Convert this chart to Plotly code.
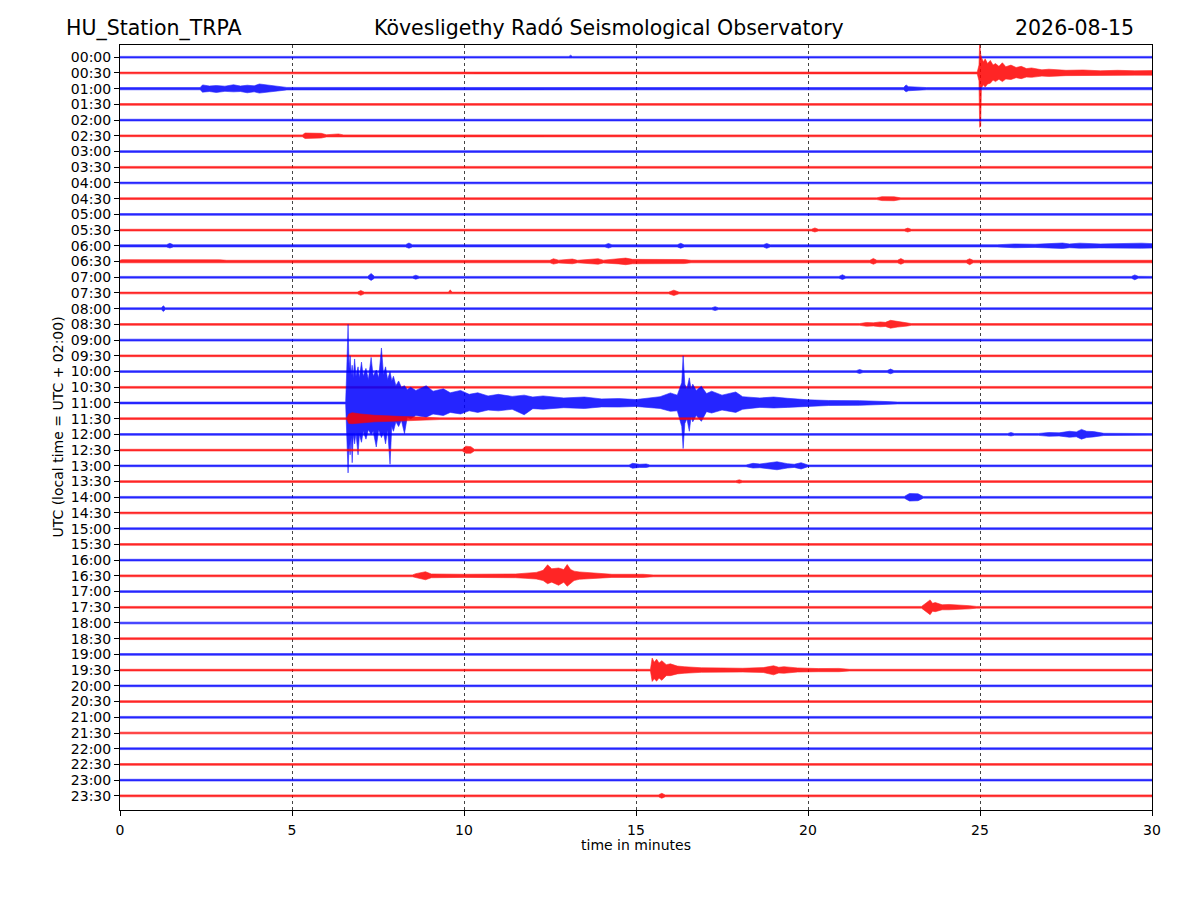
import plotly.graph_objects as go

ROW_LABELS = [
    "00:00", "00:30", "01:00", "01:30", "02:00", "02:30", "03:00", "03:30",
    "04:00", "04:30", "05:00", "05:30", "06:00", "06:30", "07:00", "07:30",
    "08:00", "08:30", "09:00", "09:30", "10:00", "10:30", "11:00", "11:30",
    "12:00", "12:30", "13:00", "13:30", "14:00", "14:30", "15:00", "15:30",
    "16:00", "16:30", "17:00", "17:30", "18:00", "18:30", "19:00", "19:30",
    "20:00", "20:30", "21:00", "21:30", "22:00", "22:30", "23:00", "23:30",
]
X_TICKS = [0, 5, 10, 15, 20, 25, 30]

# background noise half-amplitude per row (in trace spacings)
BASE_NOISE = [
    0.055, 0.055, 0.07, 0.055, 0.055, 0.055, 0.055, 0.055,
    0.055, 0.055, 0.055, 0.055, 0.07, 0.08, 0.055, 0.055,
    0.055, 0.055, 0.06, 0.055, 0.055, 0.055, 0.06, 0.055,
    0.055, 0.055, 0.055, 0.055, 0.055, 0.055, 0.055, 0.055,
    0.055, 0.06, 0.055, 0.055, 0.055, 0.055, 0.055, 0.055,
    0.055, 0.055, 0.055, 0.055, 0.055, 0.055, 0.055, 0.06,
]

# envelopes: (minute, amplitude up, amplitude down)
blip_0000 = [(13.05, 0.055, 0.055), (13.1, 0.13, 0.06), (13.15, 0.055, 0.055)]
quake_0030 = [
    (24.92, 0.06, 0.06), (24.97, 0.5, 0.5), (24.99, 1.9, 3.45), (25.02, 1.2, 3.4),
    (25.04, 1.0, 0.95), (25.1, 0.7, 0.75), (25.15, 0.9, 0.9), (25.22, 0.6, 0.7),
    (25.3, 0.8, 0.65), (25.38, 0.5, 0.45), (25.45, 0.6, 0.55), (25.55, 0.42, 0.4),
    (25.65, 0.65, 0.55), (25.75, 0.4, 0.38), (25.9, 0.5, 0.42), (26.05, 0.35, 0.3),
    (26.2, 0.42, 0.36), (26.35, 0.28, 0.26), (26.5, 0.32, 0.28), (26.8, 0.2, 0.2),
    (27.0, 0.24, 0.22), (27.5, 0.17, 0.17), (28.0, 0.19, 0.17), (28.5, 0.14, 0.14),
    (29.0, 0.17, 0.15), (29.5, 0.14, 0.14), (30.0, 0.15, 0.14),
]
burst_0100 = [
    (2.33, 0.07, 0.07), (2.4, 0.24, 0.22), (2.6, 0.17, 0.18), (2.8, 0.2, 0.24),
    (3.05, 0.16, 0.17), (3.3, 0.25, 0.2), (3.5, 0.17, 0.18), (3.7, 0.22, 0.26),
    (3.9, 0.18, 0.2), (4.05, 0.3, 0.28), (4.3, 0.24, 0.22), (4.6, 0.16, 0.14),
    (4.85, 0.08, 0.08),
    (22.78, 0.07, 0.07), (22.85, 0.24, 0.2), (22.92, 0.13, 0.13), (23.3, 0.11, 0.1),
    (23.45, 0.07, 0.07),
]
burst_0230 = [
    (5.3, 0.06, 0.06), (5.38, 0.18, 0.17), (5.6, 0.15, 0.16), (5.85, 0.16, 0.14),
    (6.0, 0.07, 0.07), (6.35, 0.12, 0.1), (6.5, 0.06, 0.06),
]
blip_0430 = [(22.0, 0.055, 0.055), (22.15, 0.13, 0.12), (22.5, 0.12, 0.13), (22.7, 0.055, 0.055)]
blip_0530 = [
    (20.1, 0.055, 0.055), (20.2, 0.14, 0.12), (20.3, 0.055, 0.055),
    (22.8, 0.055, 0.055), (22.9, 0.13, 0.12), (23.0, 0.055, 0.055),
]
noise_0600 = [
    (1.35, 0.07, 0.07), (1.45, 0.16, 0.14), (1.55, 0.07, 0.07),
    (8.3, 0.07, 0.07), (8.4, 0.18, 0.15), (8.5, 0.07, 0.07),
    (14.1, 0.07, 0.07), (14.2, 0.15, 0.14), (14.3, 0.07, 0.07),
    (16.2, 0.07, 0.07), (16.3, 0.16, 0.15), (16.4, 0.07, 0.07),
    (18.7, 0.07, 0.07), (18.8, 0.15, 0.16), (18.9, 0.07, 0.07),
    (25.5, 0.07, 0.07), (26.0, 0.12, 0.12), (26.6, 0.1, 0.1), (27.4, 0.18, 0.17),
    (27.6, 0.12, 0.12), (27.9, 0.17, 0.15), (28.5, 0.12, 0.13), (29.1, 0.15, 0.13),
    (29.7, 0.17, 0.15), (30.0, 0.14, 0.14),
]
noise_0630 = [
    (0.05, 0.12, 0.12), (2.9, 0.11, 0.11), (3.1, 0.08, 0.08),
    (12.5, 0.08, 0.08), (12.6, 0.18, 0.16), (12.75, 0.09, 0.09), (13.15, 0.16, 0.14),
    (13.3, 0.08, 0.08), (13.9, 0.18, 0.17), (14.05, 0.09, 0.09), (14.5, 0.15, 0.15),
    (14.7, 0.22, 0.2), (14.9, 0.14, 0.14), (15.5, 0.15, 0.15), (16.4, 0.13, 0.13),
    (16.6, 0.08, 0.08),
    (21.8, 0.08, 0.08), (21.9, 0.2, 0.17), (22.0, 0.08, 0.08),
    (22.6, 0.08, 0.08), (22.7, 0.19, 0.17), (22.8, 0.08, 0.08),
    (24.6, 0.08, 0.08), (24.7, 0.18, 0.2), (24.8, 0.08, 0.08),
]
blips_0700 = [
    (7.2, 0.055, 0.055), (7.3, 0.24, 0.2), (7.4, 0.055, 0.055),
    (8.5, 0.055, 0.055), (8.6, 0.13, 0.12), (8.7, 0.055, 0.055),
    (20.9, 0.055, 0.055), (21.0, 0.16, 0.14), (21.1, 0.055, 0.055),
    (29.4, 0.055, 0.055), (29.5, 0.15, 0.16), (29.6, 0.06, 0.06),
]
blips_0730 = [
    (6.9, 0.055, 0.055), (7.0, 0.16, 0.15), (7.1, 0.055, 0.055),
    (9.55, 0.055, 0.055), (9.6, 0.2, 0.08), (9.65, 0.055, 0.055),
    (15.95, 0.055, 0.055), (16.1, 0.18, 0.16), (16.25, 0.055, 0.055),
]
blips_0800 = [
    (1.2, 0.055, 0.055), (1.26, 0.18, 0.18), (1.32, 0.055, 0.055),
    (17.2, 0.055, 0.055), (17.3, 0.13, 0.12), (17.4, 0.055, 0.055),
]
burst_0830 = [
    (21.5, 0.055, 0.055), (21.7, 0.12, 0.12), (21.9, 0.1, 0.1), (22.1, 0.16, 0.15),
    (22.25, 0.13, 0.13), (22.4, 0.26, 0.24), (22.6, 0.18, 0.17), (22.9, 0.1, 0.1),
    (23.0, 0.055, 0.055),
]
blips_1000 = [
    (21.4, 0.055, 0.055), (21.5, 0.13, 0.12), (21.6, 0.06, 0.06),
    (22.3, 0.06, 0.06), (22.4, 0.16, 0.14), (22.5, 0.06, 0.06),
]
quake_1100 = [
    (6.56, 0.06, 0.06), (6.59, 2.0, 2.4), (6.63, 5.0, 4.45), (6.66, 2.2, 2.6),
    (6.69, 3.0, 3.3), (6.72, 1.8, 2.2), (6.75, 2.4, 3.8), (6.78, 1.6, 2.0),
    (6.82, 2.8, 2.6), (6.86, 1.7, 1.9), (6.92, 2.3, 3.3), (6.96, 1.6, 2.0),
    (7.02, 2.6, 2.5), (7.07, 1.7, 1.8), (7.15, 2.2, 2.3), (7.22, 1.5, 1.7),
    (7.3, 2.9, 2.0), (7.36, 1.7, 1.8), (7.45, 2.1, 2.8), (7.52, 1.6, 1.7),
    (7.6, 3.5, 2.2), (7.66, 1.8, 1.9), (7.72, 2.3, 2.6), (7.78, 1.5, 1.7),
    (7.85, 2.0, 3.9), (7.9, 1.4, 1.5), (7.95, 1.7, 1.8), (8.02, 1.1, 1.2),
    (8.1, 1.4, 1.5), (8.18, 1.0, 1.1), (8.27, 1.1, 1.95), (8.35, 0.85, 0.9),
    (8.45, 1.0, 1.0), (8.6, 0.8, 0.8), (8.9, 1.1, 0.9), (9.1, 0.75, 0.7),
    (9.4, 0.9, 0.8), (9.6, 0.65, 0.6), (9.9, 0.8, 0.7), (10.15, 0.55, 0.5),
    (10.4, 0.65, 0.6), (10.7, 0.45, 0.45), (11.0, 0.55, 0.5), (11.4, 0.42, 0.4),
    (11.75, 0.5, 0.75), (12.0, 0.38, 0.36), (12.3, 0.45, 0.4), (12.9, 0.32, 0.3),
    (13.5, 0.38, 0.35), (14.0, 0.26, 0.25), (14.5, 0.28, 0.26), (15.0, 0.22, 0.22),
    (15.4, 0.3, 0.28), (15.7, 0.4, 0.35), (16.0, 0.64, 0.53), (16.2, 0.5, 0.5),
    (16.33, 1.3, 1.5), (16.37, 3.0, 2.9), (16.42, 1.2, 1.3), (16.48, 0.9, 1.0),
    (16.55, 1.6, 1.8), (16.6, 0.9, 0.9), (16.65, 1.2, 1.2), (16.75, 0.8, 0.8),
    (16.9, 1.06, 1.17), (17.05, 0.6, 0.55), (17.2, 0.75, 0.64), (17.5, 0.5, 0.45),
    (17.9, 0.7, 0.6), (18.1, 0.4, 0.4), (18.6, 0.32, 0.28), (19.0, 0.38, 0.32),
    (19.4, 0.3, 0.28), (20.0, 0.2, 0.2), (20.6, 0.16, 0.16), (21.5, 0.15, 0.15),
    (22.3, 0.09, 0.09), (22.6, 0.06, 0.06),
]
quake_1130 = [
    (6.6, 0.055, 0.055), (6.65, 0.3, 0.3), (6.75, 0.38, 0.32), (7.0, 0.3, 0.3),
    (7.4, 0.22, 0.2), (8.1, 0.15, 0.15), (9.0, 0.07, 0.07), (9.3, 0.055, 0.055),
]
burst_1200 = [
    (25.8, 0.055, 0.055), (25.9, 0.12, 0.1), (26.0, 0.055, 0.055),
    (26.7, 0.06, 0.06), (27.0, 0.12, 0.12), (27.3, 0.1, 0.1), (27.6, 0.2, 0.18),
    (27.8, 0.16, 0.15), (27.95, 0.32, 0.3), (28.1, 0.2, 0.2), (28.3, 0.18, 0.16),
    (28.6, 0.07, 0.07),
]
blob_1230 = [(9.95, 0.055, 0.055), (10.05, 0.25, 0.2), (10.2, 0.22, 0.2), (10.3, 0.055, 0.055)]
bursts_1300 = [
    (14.8, 0.055, 0.055), (14.9, 0.16, 0.15), (15.1, 0.1, 0.1), (15.3, 0.12, 0.1),
    (15.4, 0.055, 0.055),
    (18.2, 0.055, 0.055), (18.4, 0.16, 0.14), (18.6, 0.12, 0.12), (18.8, 0.18, 0.17),
    (19.1, 0.26, 0.25), (19.4, 0.14, 0.14), (19.6, 0.1, 0.1), (19.8, 0.2, 0.2),
    (20.0, 0.055, 0.055),
]
blip_1330 = [(17.9, 0.055, 0.055), (18.0, 0.11, 0.1), (18.1, 0.055, 0.055)]
burst_1400 = [(22.8, 0.055, 0.055), (22.95, 0.24, 0.24), (23.2, 0.22, 0.22), (23.35, 0.055, 0.055)]
burst_1630 = [
    (8.5, 0.06, 0.06), (8.6, 0.14, 0.12), (8.88, 0.26, 0.25), (9.05, 0.12, 0.12),
    (10.0, 0.1, 0.1), (11.5, 0.12, 0.12), (11.8, 0.17, 0.16), (12.1, 0.22, 0.2),
    (12.3, 0.35, 0.3), (12.43, 0.7, 0.5), (12.55, 0.45, 0.4), (12.75, 0.5, 0.6),
    (12.9, 0.4, 0.4), (13.0, 0.72, 0.66), (13.1, 0.4, 0.5), (13.2, 0.3, 0.3),
    (13.35, 0.25, 0.22), (13.8, 0.18, 0.17), (14.3, 0.1, 0.1), (15.2, 0.1, 0.1),
    (15.5, 0.06, 0.06),
]
burst_1730 = [
    (23.3, 0.055, 0.055), (23.45, 0.3, 0.3), (23.55, 0.47, 0.47), (23.62, 0.25, 0.25),
    (23.7, 0.3, 0.28), (23.9, 0.16, 0.16), (24.1, 0.18, 0.16), (24.7, 0.1, 0.1),
    (24.9, 0.055, 0.055),
]
quake_1930 = [
    (15.42, 0.055, 0.055), (15.47, 0.77, 0.72), (15.53, 0.5, 0.55), (15.6, 0.7, 0.7),
    (15.67, 0.45, 0.5), (15.75, 0.6, 0.65), (15.88, 0.35, 0.35), (16.0, 0.4, 0.35),
    (16.2, 0.26, 0.24), (16.4, 0.22, 0.2), (16.9, 0.15, 0.14), (17.5, 0.14, 0.12),
    (18.1, 0.12, 0.12), (18.7, 0.16, 0.15), (19.0, 0.28, 0.3), (19.15, 0.18, 0.18),
    (19.3, 0.22, 0.2), (19.7, 0.14, 0.12), (20.3, 0.1, 0.1), (20.9, 0.11, 0.1),
    (21.2, 0.055, 0.055),
]
blip_2330 = [(15.65, 0.06, 0.06), (15.75, 0.16, 0.15), (15.85, 0.06, 0.06)]

EVENTS = {
    "00:00": [blip_0000], "00:30": [quake_0030], "01:00": [burst_0100],
    "02:30": [burst_0230], "04:30": [blip_0430], "05:30": [blip_0530],
    "06:00": [noise_0600], "06:30": [noise_0630], "07:00": [blips_0700],
    "07:30": [blips_0730], "08:00": [blips_0800], "08:30": [burst_0830],
    "10:00": [blips_1000], "11:00": [quake_1100], "11:30": [quake_1130],
    "12:00": [burst_1200], "12:30": [blob_1230], "13:00": [bursts_1300],
    "13:30": [blip_1330], "14:00": [burst_1400], "16:30": [burst_1630],
    "17:30": [burst_1730], "19:30": [quake_1930], "23:30": [blip_2330],
}

fig = go.Figure()

for i, label in enumerate(ROW_LABELS):
    color = "#0000ff" if i % 2 == 0 else "#ff0000"
    n = BASE_NOISE[i]
    pts = [(X_TICKS[0], n, n)]
    for ev in EVENTS.get(label, []):
        pts.extend(ev)
    pts.append((X_TICKS[-1], n, n))
    pts.sort(key=lambda p: p[0])
    xs = [p[0] for p in pts]
    top = [i - p[1] for p in pts]
    bot = [i + p[2] for p in pts]
    fig.add_trace(
        go.Scatter(
            x=xs + xs[::-1],
            y=top + bot[::-1],
            mode="lines",
            fill="toself",
            fillcolor=color,
            line=dict(color=color, width=0.6),
            opacity=0.85,
            hoverinfo="skip",
            showlegend=False,
        )
    )

# page has an 8px body margin, so the figure is 16px smaller than the window
fig.update_layout(
    width=1184,
    height=884,
    margin=dict(l=112, r=40, t=37, b=82),
    plot_bgcolor="white",
    paper_bgcolor="white",
    font=dict(family="DejaVu Sans", size=14, color="black"),
    xaxis=dict(
        range=[X_TICKS[0], X_TICKS[-1]],
        tickvals=X_TICKS,
        showgrid=True,
        gridcolor="#444444",
        griddash="dot",
        gridwidth=0.5,
        zeroline=False,
        showline=True,
        mirror=True,
        linecolor="black",
        linewidth=1,
        ticks="outside",
        ticklen=5,
        tickcolor="black",
        ticklabelstandoff=2,
    ),
    yaxis=dict(
        range=[47.9, -0.78],
        tickvals=list(range(len(ROW_LABELS))),
        ticktext=ROW_LABELS,
        showgrid=False,
        zeroline=False,
        showline=True,
        mirror=True,
        linecolor="black",
        linewidth=1,
        ticks="outside",
        ticklen=5,
        tickcolor="black",
    ),
    annotations=[
        dict(text="HU_Station_TRPA", xref="paper", yref="paper", x=-0.0543, y=1.0222,
             xanchor="left", yanchor="middle", showarrow=False, font=dict(size=20.5)),
        dict(text="Kövesligethy Radó Seismological Observatory", xref="paper", yref="paper",
             x=0.4738, y=1.0222, xanchor="center", yanchor="middle", showarrow=False,
             font=dict(size=20.5)),
        dict(text="2026-08-15", xref="paper", yref="paper", x=0.9845, y=1.0222,
             xanchor="right", yanchor="middle", showarrow=False, font=dict(size=20.5)),
        dict(text="time in minutes", xref="paper", yref="paper", x=0.5, y=-0.0458,
             xanchor="center", yanchor="middle", showarrow=False, font=dict(size=14)),
        dict(text="UTC (local time = UTC + 02:00)", xref="paper", yref="paper",
             x=-0.061, y=0.5, xanchor="center", yanchor="middle", textangle=-90,
             showarrow=False, font=dict(size=14)),
    ],
)

fig.write_html("out.html")
